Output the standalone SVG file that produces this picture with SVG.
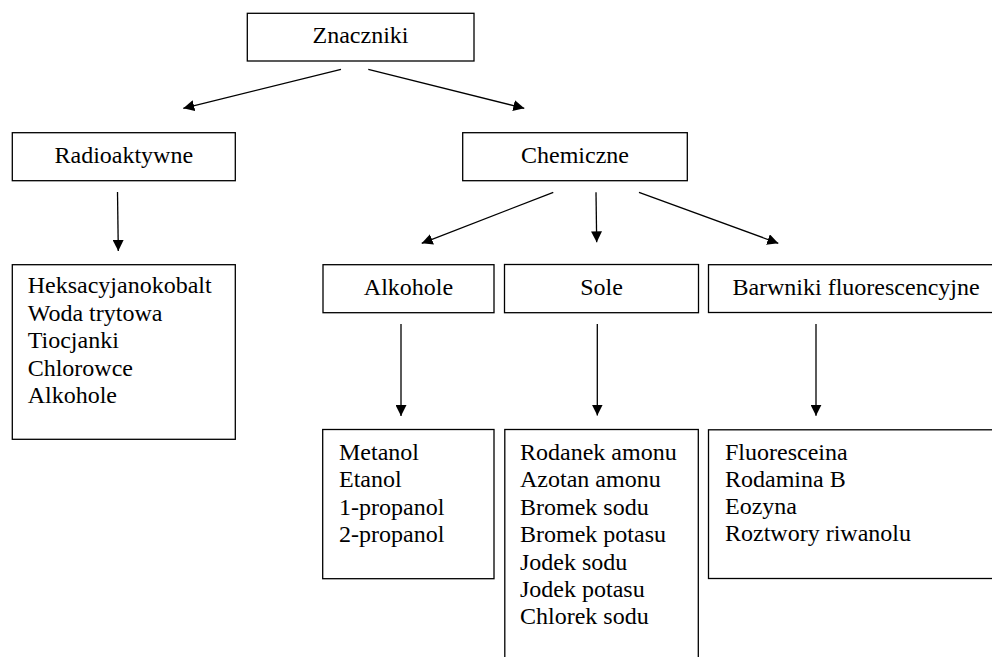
<svg xmlns="http://www.w3.org/2000/svg" width="992" height="657" viewBox="0 0 992 657">
<style>
.box{fill:#fff;stroke:#000;stroke-width:1.3}
.t{font-family:'Liberation Serif','DejaVu Serif',serif;font-size:24px;fill:#000}
.c{text-anchor:middle}
.edge{stroke:#000;stroke-width:1.3;fill:none;marker-end:url(#ah)}
</style>
<defs>
<marker id="ah" markerUnits="userSpaceOnUse" markerWidth="11" markerHeight="11" refX="11" refY="5.5" orient="auto">
<path d="M0,0 L11,5.5 L0,11 z" fill="#000"/>
</marker>
</defs>
<rect width="992" height="657" fill="#fff"/>
<g id="znaczniki">
<rect class="box" x="247.3" y="13.3" width="226.7" height="47.7"/>
<text class="t c" x="360.5" y="43.3">Znaczniki</text>
</g>
<g id="radioaktywne">
<rect class="box" x="12.3" y="132.7" width="223" height="48"/>
<text class="t c" x="123.8" y="163.3">Radioaktywne</text>
</g>
<g id="chemiczne">
<rect class="box" x="462.7" y="132.7" width="224.6" height="48"/>
<text class="t c" x="575" y="163.3">Chemiczne</text>
</g>
<g id="radio-lista">
<rect class="box" x="12.3" y="264.7" width="223" height="174.6"/>
<text class="t" x="27.7" y="293.3">Heksacyjanokobalt</text>
<text class="t" x="27.7" y="320.8">Woda trytowa</text>
<text class="t" x="27.7" y="348.3">Tiocjanki</text>
<text class="t" x="27.7" y="375.8">Chlorowce</text>
<text class="t" x="27.7" y="403.3">Alkohole</text>
</g>
<g id="alkohole">
<rect class="box" x="323" y="264.7" width="171" height="48"/>
<text class="t c" x="408.5" y="295">Alkohole</text>
</g>
<g id="sole">
<rect class="box" x="504.5" y="264.5" width="194" height="48.2"/>
<text class="t c" x="601.5" y="295">Sole</text>
</g>
<g id="barwniki">
<rect class="box" x="708.5" y="264.7" width="295.5" height="47.8"/>
<text class="t c" x="856" y="295">Barwniki fluorescencyjne</text>
</g>
<g id="alkohole-lista">
<rect class="box" x="322.7" y="429.5" width="171.3" height="149.2"/>
<text class="t" x="339" y="460">Metanol</text>
<text class="t" x="339" y="487.4">Etanol</text>
<text class="t" x="339" y="514.8">1-propanol</text>
<text class="t" x="339" y="542.2">2-propanol</text>
</g>
<g id="sole-lista">
<rect class="box" x="504.8" y="429.5" width="193.5" height="240"/>
<text class="t" x="520" y="460">Rodanek amonu</text>
<text class="t" x="520" y="487.4">Azotan amonu</text>
<text class="t" x="520" y="514.8">Bromek sodu</text>
<text class="t" x="520" y="542.2">Bromek potasu</text>
<text class="t" x="520" y="569.6">Jodek sodu</text>
<text class="t" x="520" y="597">Jodek potasu</text>
<text class="t" x="520" y="624.4">Chlorek sodu</text>
</g>
<g id="barwniki-lista">
<rect class="box" x="708.5" y="429.8" width="295.5" height="148.7"/>
<text class="t" x="725" y="459.5">Fluoresceina</text>
<text class="t" x="725" y="486.7">Rodamina B</text>
<text class="t" x="725" y="513.9">Eozyna</text>
<text class="t" x="725" y="541.1">Roztwory riwanolu</text>
</g>
<g id="connectors">
<line class="edge" x1="341" y1="69.3" x2="183.3" y2="108.3"/>
<line class="edge" x1="368.3" y1="69.3" x2="524.3" y2="108.3"/>
<line class="edge" x1="117.5" y1="192" x2="118.3" y2="251"/>
<line class="edge" x1="553.3" y1="192.3" x2="421.7" y2="243.3"/>
<line class="edge" x1="596" y1="192.3" x2="596.7" y2="242.3"/>
<line class="edge" x1="639" y1="192.3" x2="778.3" y2="243.3"/>
<line class="edge" x1="401" y1="324" x2="401" y2="416"/>
<line class="edge" x1="597.3" y1="324" x2="597.3" y2="415.5"/>
<line class="edge" x1="816" y1="324" x2="816" y2="415.7"/>
</g>
</svg>
